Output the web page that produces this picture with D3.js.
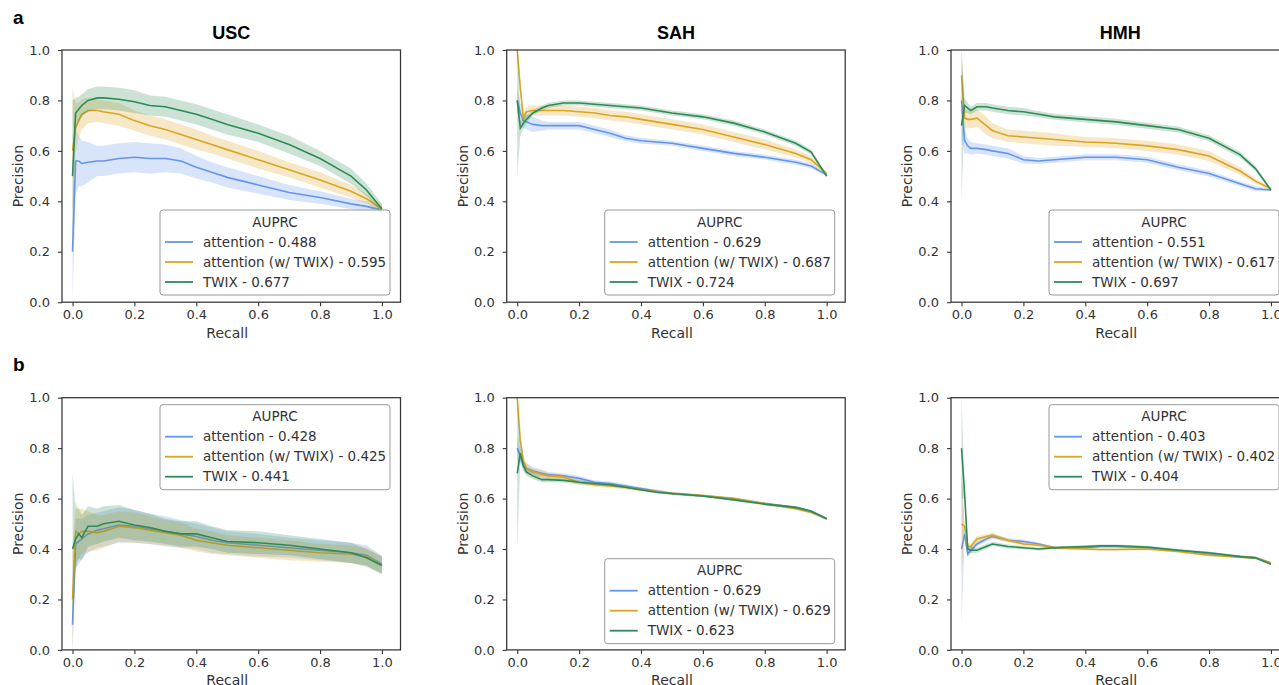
<!DOCTYPE html>
<html>
<head>
<meta charset="utf-8">
<script src="https://cdn.jsdelivr.net/npm/d3@7"></script>
<style>
  body { margin: 0; background: #fff; }
  text { font-family: "DejaVu Sans", sans-serif; fill: #333; }
</style>
</head>
<body>
<svg id="chart" width="1279" height="685"></svg>
<script>
// recall grid shared by all curves
const recallGrid = [0, 0.01, 0.02, 0.03, 0.05, 0.08, 0.1, 0.15, 0.2, 0.25, 0.3, 0.35, 0.4, 0.45, 0.5, 0.6, 0.7, 0.8, 0.9, 0.95, 1.0];
const seriesNames = ["attention", "attention (w/ TWIX)", "TWIX"];
const seriesColors = ["#6495ED", "#DAA520", "#2E8B57"];
const colTitles = ["USC", "SAH", "HMH"];
const rowLabels = ["a", "b"];
const tickValues = [0, 0.2, 0.4, 0.6, 0.8, 1.0];

// row a
const aUscAtt = [0.2, 0.56, 0.56, 0.55, 0.555, 0.56, 0.56, 0.57, 0.575, 0.57, 0.57, 0.56, 0.535, 0.515, 0.495, 0.465, 0.435, 0.415, 0.39, 0.38, 0.365];
const aUscAttSd = [0.2, 0.13, 0.1, 0.09, 0.08, 0.06, 0.06, 0.06, 0.06, 0.06, 0.055, 0.05, 0.045, 0.04, 0.04, 0.035, 0.03, 0.025, 0.02, 0.02, 0.015];
const aUscMix = [0.6, 0.69, 0.72, 0.745, 0.76, 0.76, 0.755, 0.745, 0.72, 0.7, 0.685, 0.665, 0.645, 0.625, 0.605, 0.565, 0.525, 0.485, 0.44, 0.41, 0.37];
const aUscMixSd = [0.25, 0.1, 0.07, 0.06, 0.05, 0.045, 0.045, 0.045, 0.04, 0.04, 0.04, 0.04, 0.04, 0.035, 0.035, 0.035, 0.03, 0.03, 0.025, 0.02, 0.015];
const aUscTwix = [0.5, 0.75, 0.765, 0.78, 0.8, 0.81, 0.81, 0.805, 0.795, 0.78, 0.775, 0.76, 0.745, 0.725, 0.705, 0.67, 0.625, 0.57, 0.5, 0.445, 0.37];
const aUscTwixSd = [0.3, 0.06, 0.05, 0.045, 0.045, 0.045, 0.045, 0.045, 0.045, 0.04, 0.04, 0.04, 0.04, 0.04, 0.04, 0.035, 0.035, 0.03, 0.03, 0.025, 0.02];

const aSahAtt = [0.8, 0.75, 0.72, 0.715, 0.705, 0.7, 0.7, 0.7, 0.7, 0.685, 0.67, 0.65, 0.64, 0.635, 0.63, 0.61, 0.59, 0.575, 0.555, 0.54, 0.505];
const aSahAttSd = [0.05, 0.04, 0.03, 0.03, 0.03, 0.02, 0.015, 0.015, 0.015, 0.015, 0.015, 0.012, 0.012, 0.01, 0.01, 0.01, 0.01, 0.01, 0.01, 0.01, 0.005];
const aSahMix = [1.0, 0.85, 0.73, 0.755, 0.76, 0.76, 0.76, 0.76, 0.755, 0.75, 0.74, 0.735, 0.725, 0.715, 0.705, 0.685, 0.655, 0.625, 0.59, 0.565, 0.51];
const aSahMixSd = [0.02, 0.02, 0.02, 0.02, 0.02, 0.02, 0.02, 0.02, 0.02, 0.02, 0.02, 0.02, 0.02, 0.02, 0.02, 0.02, 0.02, 0.02, 0.015, 0.015, 0.005];
const aSahTwix = [0.8, 0.69, 0.71, 0.725, 0.75, 0.77, 0.78, 0.79, 0.79, 0.785, 0.78, 0.775, 0.77, 0.76, 0.75, 0.735, 0.71, 0.675, 0.63, 0.595, 0.5];
const aSahTwixSd = [0.3, 0.03, 0.02, 0.015, 0.01, 0.01, 0.01, 0.01, 0.01, 0.01, 0.01, 0.01, 0.01, 0.01, 0.01, 0.01, 0.01, 0.01, 0.01, 0.01, 0.005];

const aHmhAtt = [0.8, 0.64, 0.62, 0.61, 0.61, 0.605, 0.6, 0.59, 0.565, 0.56, 0.565, 0.57, 0.575, 0.575, 0.575, 0.565, 0.535, 0.51, 0.47, 0.45, 0.445];
const aHmhAttSd = [0.15, 0.05, 0.03, 0.025, 0.02, 0.02, 0.02, 0.02, 0.015, 0.012, 0.012, 0.012, 0.012, 0.012, 0.012, 0.012, 0.012, 0.012, 0.01, 0.01, 0.005];
const aHmhMix = [0.9, 0.73, 0.725, 0.725, 0.73, 0.7, 0.68, 0.66, 0.655, 0.65, 0.645, 0.64, 0.635, 0.633, 0.63, 0.62, 0.605, 0.58, 0.52, 0.48, 0.45];
const aHmhMixSd = [0.12, 0.04, 0.035, 0.035, 0.035, 0.035, 0.03, 0.025, 0.025, 0.025, 0.025, 0.022, 0.02, 0.02, 0.02, 0.02, 0.02, 0.02, 0.015, 0.01, 0.005];
const aHmhTwix = [0.7, 0.78, 0.77, 0.76, 0.775, 0.775, 0.77, 0.76, 0.755, 0.745, 0.735, 0.73, 0.725, 0.72, 0.715, 0.7, 0.685, 0.65, 0.585, 0.53, 0.445];
const aHmhTwixSd = [0.3, 0.03, 0.02, 0.015, 0.015, 0.015, 0.015, 0.015, 0.015, 0.012, 0.012, 0.012, 0.012, 0.012, 0.012, 0.012, 0.012, 0.012, 0.012, 0.01, 0.005];

// row b
const bUscAtt = [0.1, 0.42, 0.43, 0.44, 0.46, 0.475, 0.48, 0.495, 0.49, 0.48, 0.47, 0.46, 0.45, 0.435, 0.425, 0.415, 0.405, 0.395, 0.385, 0.375, 0.34];
const bUscAttSd = [0.12, 0.1, 0.09, 0.08, 0.075, 0.07, 0.07, 0.07, 0.065, 0.06, 0.06, 0.055, 0.05, 0.05, 0.045, 0.045, 0.04, 0.04, 0.04, 0.04, 0.035];
const bUscMix = [0.2, 0.47, 0.46, 0.47, 0.47, 0.465, 0.47, 0.49, 0.485, 0.475, 0.465, 0.455, 0.435, 0.425, 0.415, 0.405, 0.395, 0.385, 0.38, 0.37, 0.335];
const bUscMixSd = [0.2, 0.12, 0.1, 0.09, 0.08, 0.07, 0.065, 0.06, 0.06, 0.055, 0.05, 0.05, 0.045, 0.045, 0.04, 0.04, 0.04, 0.035, 0.035, 0.035, 0.035];
const bUscTwix = [0.4, 0.44, 0.46, 0.445, 0.49, 0.49, 0.5, 0.51, 0.495, 0.485, 0.47, 0.46, 0.46, 0.445, 0.43, 0.425, 0.415, 0.4, 0.385, 0.365, 0.335];
const bUscTwixSd = [0.3, 0.12, 0.1, 0.09, 0.08, 0.07, 0.07, 0.065, 0.06, 0.055, 0.05, 0.05, 0.05, 0.045, 0.045, 0.045, 0.04, 0.04, 0.04, 0.035, 0.035];

const bSahAtt = [0.8, 0.77, 0.73, 0.72, 0.71, 0.7, 0.695, 0.69, 0.68, 0.665, 0.66, 0.65, 0.64, 0.63, 0.62, 0.61, 0.6, 0.58, 0.565, 0.55, 0.52];
const bSahAttSd = [0.05, 0.03, 0.02, 0.02, 0.015, 0.015, 0.01, 0.01, 0.01, 0.008, 0.008, 0.008, 0.006, 0.006, 0.006, 0.005, 0.005, 0.005, 0.005, 0.005, 0.005];
const bSahMix = [1.0, 0.83, 0.75, 0.72, 0.705, 0.695, 0.69, 0.685, 0.665, 0.655, 0.65, 0.645, 0.635, 0.628, 0.62, 0.612, 0.6, 0.58, 0.56, 0.545, 0.52];
const bSahMixSd = [0.02, 0.02, 0.02, 0.02, 0.015, 0.015, 0.012, 0.01, 0.01, 0.008, 0.008, 0.008, 0.006, 0.006, 0.006, 0.005, 0.005, 0.005, 0.005, 0.005, 0.005];
const bSahTwix = [0.7, 0.78, 0.73, 0.705, 0.69, 0.675, 0.675, 0.672, 0.665, 0.66, 0.655, 0.645, 0.635, 0.625, 0.62, 0.61, 0.595, 0.578, 0.565, 0.55, 0.52];
const bSahTwixSd = [0.3, 0.03, 0.02, 0.015, 0.012, 0.01, 0.01, 0.008, 0.008, 0.006, 0.006, 0.006, 0.005, 0.005, 0.005, 0.005, 0.005, 0.005, 0.005, 0.005, 0.005];

const bHmhAtt = [0.4, 0.46, 0.38, 0.395, 0.42, 0.44, 0.45, 0.435, 0.43, 0.42, 0.405, 0.405, 0.405, 0.41, 0.41, 0.405, 0.395, 0.38, 0.37, 0.365, 0.345];
const bHmhAttSd = [0.3, 0.02, 0.015, 0.012, 0.01, 0.01, 0.01, 0.008, 0.008, 0.006, 0.006, 0.006, 0.005, 0.005, 0.005, 0.005, 0.005, 0.005, 0.005, 0.005, 0.005];
const bHmhMix = [0.5, 0.49, 0.41, 0.41, 0.44, 0.45, 0.455, 0.435, 0.42, 0.415, 0.405, 0.402, 0.4, 0.398, 0.398, 0.4, 0.39, 0.375, 0.368, 0.365, 0.345];
const bHmhMixSd = [0.2, 0.02, 0.015, 0.012, 0.012, 0.01, 0.01, 0.008, 0.008, 0.006, 0.006, 0.006, 0.005, 0.005, 0.005, 0.005, 0.005, 0.005, 0.005, 0.005, 0.005];
const bHmhTwix = [0.8, 0.62, 0.4, 0.395, 0.395, 0.41, 0.42, 0.41, 0.405, 0.4, 0.405, 0.408, 0.41, 0.413, 0.413, 0.408, 0.395, 0.385, 0.37, 0.365, 0.34];
const bHmhTwixSd = [0.2, 0.02, 0.015, 0.012, 0.01, 0.01, 0.008, 0.008, 0.006, 0.006, 0.006, 0.005, 0.005, 0.005, 0.005, 0.005, 0.005, 0.005, 0.005, 0.005, 0.005];

// AUPRC values shown in the legends
const aUscAuprc = [0.488, 0.595, 0.677];
const aSahAuprc = [0.629, 0.687, 0.724];
const aHmhAuprc = [0.551, 0.617, 0.697];
const bUscAuprc = [0.428, 0.425, 0.441];
const bSahAuprc = [0.629, 0.629, 0.623];
const bHmhAuprc = [0.403, 0.402, 0.404];

const panels = [
  { row: 0, col: 0, means: [aUscAtt, aUscMix, aUscTwix], sds: [aUscAttSd, aUscMixSd, aUscTwixSd], auprc: aUscAuprc, legendTop: 160 },
  { row: 0, col: 1, means: [aSahAtt, aSahMix, aSahTwix], sds: [aSahAttSd, aSahMixSd, aSahTwixSd], auprc: aSahAuprc, legendTop: 160 },
  { row: 0, col: 2, means: [aHmhAtt, aHmhMix, aHmhTwix], sds: [aHmhAttSd, aHmhMixSd, aHmhTwixSd], auprc: aHmhAuprc, legendTop: 160 },
  { row: 1, col: 0, means: [bUscAtt, bUscMix, bUscTwix], sds: [bUscAttSd, bUscMixSd, bUscTwixSd], auprc: bUscAuprc, legendTop: 7 },
  { row: 1, col: 1, means: [bSahAtt, bSahMix, bSahTwix], sds: [bSahAttSd, bSahMixSd, bSahTwixSd], auprc: bSahAuprc, legendTop: 161 },
  { row: 1, col: 2, means: [bHmhAtt, bHmhMix, bHmhTwix], sds: [bHmhAttSd, bHmhMixSd, bHmhTwixSd], auprc: bHmhAuprc, legendTop: 7 }
];

const colLeft = [62, 506.7, 951];
const rowTop = [50, 397.7];
const W = 338.5, H = 252.2;

const svg = d3.select("#chart");

// panel letters
rowLabels.forEach((lbl, i) => {
  svg.append("text")
    .attr("x", 13).attr("y", i === 0 ? 24 : 371)
    .style("font-family", "'Liberation Sans', Arial, sans-serif")
    .style("font-weight", "bold").style("font-size", "19px").style("fill", "#000")
    .text(lbl);
});

panels.forEach((p, idx) => {
  const left = colLeft[p.col], top = rowTop[p.row];
  const g = svg.append("g").attr("transform", `translate(${left},${top})`);

  const x = d3.scaleLinear().domain([-0.034, 1.06]).range([0, W]);
  const y = d3.scaleLinear().domain([0, 1]).range([H, 0]);

  g.append("clipPath").attr("id", "clip" + idx)
    .append("rect").attr("width", W).attr("height", H);
  const plot = g.append("g").attr("clip-path", `url(#clip${idx})`);

  const area = d3.area().x(d => x(d.r)).y0(d => y(d.lo)).y1(d => y(d.hi));
  const line = d3.line().x(d => x(d.r)).y(d => y(d.p));

  p.means.forEach((m, s) => {
    const pts = recallGrid.map((r, i) => ({ r: r, p: m[i], lo: m[i] - p.sds[s][i], hi: m[i] + p.sds[s][i] }));
    plot.append("path").datum(pts).attr("d", area)
      .attr("fill", seriesColors[s]).attr("fill-opacity", 0.25).attr("stroke", "none");
    plot.append("path").datum(pts).attr("d", line)
      .attr("fill", "none").attr("stroke", seriesColors[s]).attr("stroke-width", 1.6);
  });

  // axes
  const xAxis = g.append("g").attr("transform", `translate(0,${H})`)
    .call(d3.axisBottom(x).tickValues(tickValues).tickFormat(d3.format(".1f")).tickSizeOuter(0).tickSize(4).tickPadding(4));
  const yAxis = g.append("g")
    .call(d3.axisLeft(y).tickValues(tickValues).tickFormat(d3.format(".1f")).tickSizeOuter(0).tickSize(4).tickPadding(8));
  [xAxis, yAxis].forEach(a => {
    a.select(".domain").remove();
    a.selectAll(".tick line").attr("stroke", "#333").attr("stroke-width", 1.1);
    a.selectAll(".tick text").style("font-size", "13px").style("font-family", "'DejaVu Sans', sans-serif").attr("fill", "#333");
  });

  // frame
  g.append("rect").attr("width", W).attr("height", H)
    .attr("fill", "none").attr("stroke", "#333").attr("stroke-width", 1.25);

  g.append("text").attr("x", x(0.5)).attr("y", H + 35.5)
    .attr("text-anchor", "middle").style("font-size", "14px").text("Recall");
  g.append("text").attr("transform", `translate(-39,${H / 2}) rotate(-90)`)
    .attr("text-anchor", "middle").style("font-size", "14px").text("Precision");

  if (p.row === 0) {
    g.append("text").attr("x", W / 2).attr("y", -11)
      .attr("text-anchor", "middle")
      .style("font-family", "'Liberation Sans', Arial, sans-serif")
      .style("font-weight", "bold").style("font-size", "18px").style("fill", "#000")
      .text(colTitles[p.col]);
  }

  // legend
  const lg = g.append("g").attr("transform", `translate(98,${p.legendTop})`);
  lg.append("rect").attr("width", 230).attr("height", 85).attr("rx", 3)
    .attr("fill", "#fff").attr("fill-opacity", 0.8).attr("stroke", "#999").attr("stroke-width", 1);
  lg.append("text").attr("x", 115).attr("y", 16.5).attr("text-anchor", "middle")
    .style("font-size", "13.5px").text("AUPRC");
  seriesNames.forEach((name, s) => {
    const yy = 32 + s * 20;
    lg.append("line").attr("x1", 5).attr("x2", 33).attr("y1", yy).attr("y2", yy)
      .attr("stroke", seriesColors[s]).attr("stroke-width", 1.8);
    lg.append("text").attr("x", 43).attr("y", yy + 4.8)
      .style("font-size", "13.5px").text(`${name} - ${d3.format(".3f")(p.auprc[s])}`);
  });
});
</script>
</body>
</html>
